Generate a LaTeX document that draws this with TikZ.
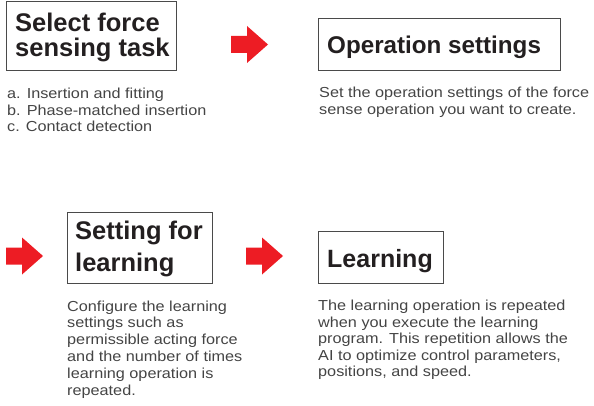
\documentclass[tikz,border=0pt]{standalone}
\usepackage{fontspec}
\setmainfont{Liberation Sans}
\newfontfamily\descfont[FakeStretch=1.12]{Liberation Sans}
\definecolor{ttl}{HTML}{231F20}
\definecolor{dsc}{HTML}{444444}
\definecolor{arr}{HTML}{ED1C24}
\definecolor{bx}{HTML}{4A4A4A}
\begin{document}
\begin{tikzpicture}[x=1pt,y=-1pt,
  box/.style={draw=bx, line width=1pt, anchor=north west, inner sep=0, outer sep=0},
  ttlline/.style={anchor=base west, inner sep=0, text=ttl},
  dscline/.style={anchor=base west, inner sep=0, text=dsc, font=\descfont\fontsize{14.5}{17}\selectfont},
  redarrow/.pic={\fill[arr] (0,-8.5) -- (16,-8.5) -- (16,-18.5) -- (37,0) -- (16,18.5) -- (16,8.5) -- (0,8.5) -- cycle;}]
\useasboundingbox (0,0) rectangle (594,406);

% boxes
\node[box, minimum width=170pt, minimum height=69pt] (b1) at (6,2) {};
\node[box, minimum width=242pt, minimum height=52pt] (b2) at (318,19) {};
\node[box, minimum width=145pt, minimum height=71pt] (b3) at (67,212) {};
\node[box, minimum width=125pt, minimum height=52pt] (b4) at (318,231) {};

% titles
\node[ttlline, font=\fontsize{25.5}{30}\selectfont\bfseries] (t1a) at (15,32) {Select force};
\node[ttlline, font=\fontsize{25.5}{30}\selectfont\bfseries] (t1b) at (15,57) {sensing task};
\node[ttlline, font=\fontsize{24.2}{30}\selectfont\bfseries] (t2) at (327,53.3) {Operation settings};
\node[ttlline, font=\fontsize{25.5}{30}\selectfont\bfseries] (t3a) at (75,240) {Setting for};
\node[ttlline, font=\fontsize{25.5}{30}\selectfont\bfseries] (t3b) at (75,271) {learning};
\node[ttlline, font=\fontsize{25}{30}\selectfont\bfseries] (t4) at (327,267) {Learning};

% arrows
\pic at (231,44.5) {redarrow};
\pic at (6,256) {redarrow};
\pic at (246,256) {redarrow};

% description 1
\node[dscline] (d1a) at (7,99) {a. Insertion and fitting};
\node[dscline] (d1b) at (7,115.5) {b. Phase-matched insertion};
\node[dscline] (d1c) at (7,132) {c. Contact detection};

% description 2
\node[dscline] (d2a) at (319,97.3) {Set the operation settings of the force};
\node[dscline] (d2b) at (319,114.8) {sense operation you want to create.};

% description 3
\node[dscline] (d3a) at (67,311) {Configure the learning};
\node[dscline] (d3b) at (67,327.8) {settings such as};
\node[dscline] (d3c) at (67,344.6) {permissible acting force};
\node[dscline] (d3d) at (67,361.4) {and the number of times};
\node[dscline] (d3e) at (67,378.2) {learning operation is};
\node[dscline] (d3f) at (67,395) {repeated.};

% description 4
\node[dscline] (d4a) at (318,310.7) {The learning operation is repeated};
\node[dscline] (d4b) at (318,327.2) {when you execute the learning};
\node[dscline] (d4c) at (318,343.7) {program. This repetition allows the};
\node[dscline] (d4d) at (318,360.2) {AI to optimize control parameters,};
\node[dscline] (d4e) at (318,376.7) {positions, and speed.};
\end{tikzpicture}
\end{document}
